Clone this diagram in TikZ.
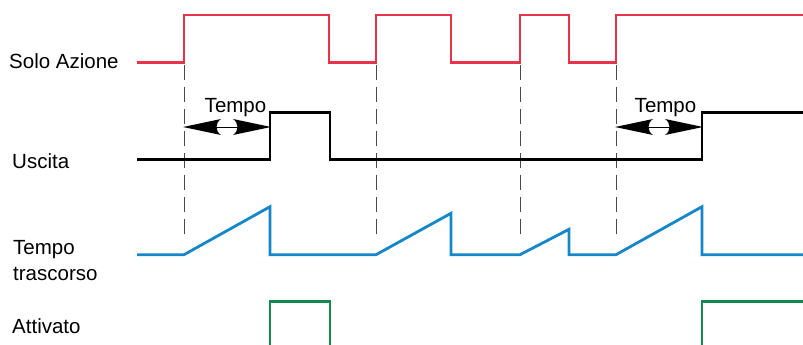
\documentclass[tikz,border=0pt]{standalone}
\usepackage{fontspec}
\setmainfont{Liberation Sans}
\definecolor{sigred}{HTML}{E8334A}
\definecolor{sigblue}{HTML}{1487C9}
\definecolor{siggreen}{HTML}{15894B}
\definecolor{dashgrey}{HTML}{4A4A4A}
\begin{document}
\begin{tikzpicture}[x=1pt,y=-1pt,
  sig/.style={line width=2.8pt,line join=miter},
  guide/.style={dashgrey,line width=0.9pt,dash pattern=on 15pt off 7pt},
  lbl/.style={anchor=base west,inner sep=0pt,font=\fontsize{20.5}{24}\selectfont},
  tlbl/.style={anchor=base,inner sep=0pt,font=\fontsize{20.5}{24}\selectfont},
  headfill/.style={fill=black,draw=none}]
\useasboundingbox[fill=white] (0,0) rectangle (803,345);
% guides
\foreach \gx in {184,376,520,616}
  \draw[guide] (\gx,65) -- (\gx,235);
% Solo Azione
\draw[sig,sigred] (137,62.7) -- (184,62.7) -- (184,15) -- (329,15) -- (329,62.7) -- (376,62.7) -- (376,15) -- (451,15) -- (451,62.7) -- (520,62.7) -- (520,15) -- (569,15) -- (569,62.7) -- (616,62.7) -- (616,15) -- (803,15);
% Uscita
\draw[sig,black] (137,159.3) -- (270,159.3) -- (270,112.3) -- (330,112.3) -- (330,159.3) -- (702,159.3) -- (702,112.3) -- (803,112.3);
% Tempo trascorso
\draw[sig,sigblue] (137,254.7) -- (184,254.7) -- (270,206.7) -- (270,254.7) -- (376,254.7) -- (451,213.3) -- (451,254.7) -- (520,254.7) -- (569,229.3) -- (569,254.7) -- (616,254.7) -- (702,206.7) -- (702,254.7) -- (803,254.7);
% Attivato
\draw[sig,siggreen] (270,350) -- (270,301.7) -- (330,301.7) -- (330,350);
\draw[sig,siggreen] (702,350) -- (702,301.7) -- (810,301.7);
% Tempo arrows
\foreach \ax/\bx in {184/270,616/702}{
  \draw[line width=1pt] (\ax+30,127) -- (\bx-30,127);
  \fill[headfill] (\ax-1,127) -- (\ax+37,119) .. controls (\ax+31,123) and (\ax+31,131) .. (\ax+37,135) -- cycle;
  \fill[headfill] (\bx+1,127) -- (\bx-37,119) .. controls (\bx-31,123) and (\bx-31,131) .. (\bx-37,135) -- cycle;
}
\node[tlbl] (t1) at (235.5,112) {Tempo};
\node[tlbl] (t2) at (665.5,112) {Tempo};
% labels
\node[lbl] (l1) at (9,69) {Solo Azione};
\node[lbl] (l2) at (12,168) {Uscita};
\node[lbl] (l3) at (13,254) {Tempo};
\node[lbl] (l4) at (13,280) {trascorso};
\node[lbl] (l5) at (12,333) {Attivato};
\end{tikzpicture}
\end{document}
